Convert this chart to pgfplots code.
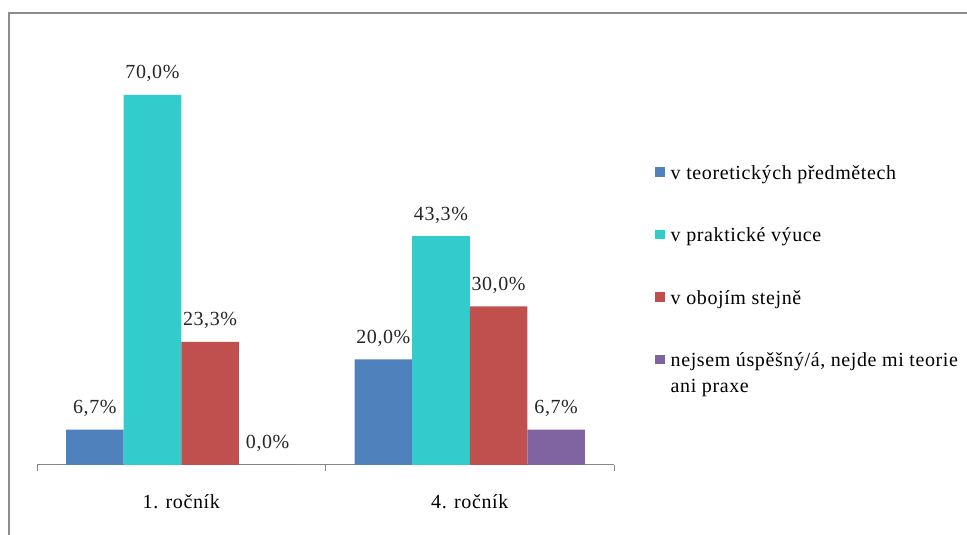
\documentclass[border=0pt]{standalone}
\usepackage{fontspec}
\setmainfont{Liberation Serif}[LetterSpace=3]
\usepackage{pgfplots}
\pgfplotsset{compat=1.18}

\definecolor{teor}{HTML}{4F81BD}
\definecolor{prak}{HTML}{33CCCC}
\definecolor{obo}{HTML}{C0504D}
\definecolor{nej}{HTML}{8064A2}
\definecolor{framegray}{HTML}{8C8C8C}
\definecolor{axisgray}{HTML}{868686}

\newcommand{\chartfont}{\fontsize{20}{26}\selectfont}

\pgfplotsset{
  sq legend/.style={
    legend image code/.code={%
      \fill[##1] (0pt,-4pt) rectangle (9.5pt,5.5pt);
      \path (13.5pt,0pt);}
  },
  % square level with the first line of a two-line entry
  sq legend top/.style={
    legend image code/.code={%
      \fill[##1] (0pt,9pt) rectangle (9.5pt,18.5pt);
      \path (13.5pt,0pt);}
  }
}

\begin{document}
\begin{tikzpicture}[x=1pt,y=1pt]
\path[use as bounding box] (0,0) rectangle (967,535);
\draw[framegray, line width=2pt] (9,0) -- (9,522) -- (967,522);
\begin{axis}[
  at={(37pt,70pt)}, anchor=south west,
  scale only axis, width=577pt, height=422.86pt,
  ymin=0, ymax=80, xmin=-0.5, xmax=1.5,
  hide y axis,
  axis x line*=bottom,
  axis line style={axisgray, line width=1pt},
  ybar=0pt, bar width=57.6pt,
  sq legend,
  xtick={0,1},
  xticklabels={1. ročník, 4. ročník},
  major tick length=0pt,
  extra x ticks={-0.5,0.5,1.5},
  extra x tick labels={},
  extra x tick style={major tick length=6pt, tick align=outside,
    tick style={axisgray, line width=1pt}},
  xticklabel style={font=\chartfont, anchor=base, yshift=-44pt},
  /pgf/number format/assume math mode=true,
  nodes near coords={\pgfmathprintnumber[fixed, fixed zerofill, precision=1, use comma]{\pgfplotspointmeta}\%},
  nodes near coords style={font=\chartfont, anchor=base, inner sep=0pt, yshift=16pt, text=black!85},
  every axis plot/.append style={draw=none},
  legend style={
    at={(axis description cs:1.0711,0.7140)}, anchor=north west,
    draw=none, fill=none, inner sep=0pt, row sep=43pt,
    font=\chartfont,
    cells={anchor=west, align=left},
  },
  legend cell align=left,
]
\addplot[fill=teor] coordinates {(0,6.7) (1,20.0)};
\addlegendentry{v teoretických předmětech}
\addplot[fill=prak] coordinates {(0,70.0) (1,43.3)};
\addlegendentry{v praktické výuce}
\addplot[fill=obo] coordinates {(0,23.3) (1,30.0)};
\addlegendentry{v obojím stejně}
\addplot[fill=nej, sq legend top] coordinates {(0,0.0) (1,6.7)};
\addlegendentry{nejsem úspěšný/á, nejde mi teorie\\ani praxe}
\end{axis}
\end{tikzpicture}
\end{document}
